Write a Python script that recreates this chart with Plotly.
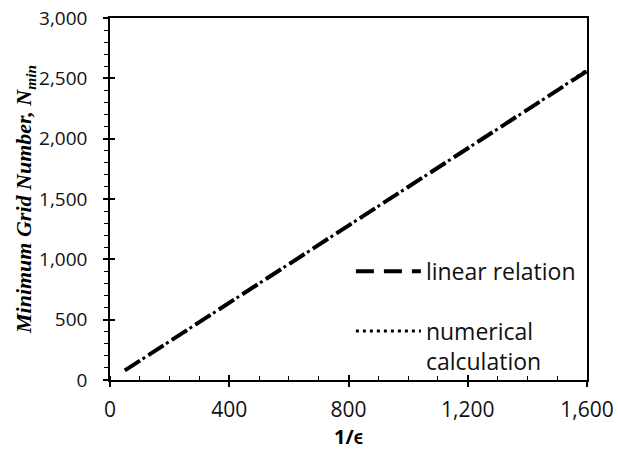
import plotly.graph_objects as go

# 1/epsilon values and minimum grid numbers
inv_eps = [50, 100, 200, 300, 400, 500, 600, 700, 800, 900, 1000, 1100, 1200, 1300, 1400, 1500, 1600]
n_linear = [80, 160, 320, 480, 640, 800, 960, 1120, 1280, 1440, 1600, 1760, 1920, 2080, 2240, 2400, 2560]
n_numeric = [80, 160, 320, 480, 640, 800, 960, 1120, 1280, 1440, 1600, 1760, 1920, 2080, 2240, 2400, 2570]

x_ticks = [0, 400, 800, 1200, 1600]
y_ticks = [0, 500, 1000, 1500, 2000, 2500, 3000]

font_main = "'Open Sans', Lato, sans-serif"

fig = go.Figure()
fig.add_trace(go.Scatter(x=inv_eps, y=n_linear, mode="lines", name="linear relation",
                         legendgroup="a",
                         line=dict(color="black", width=4, dash="18px,10px")))
fig.add_trace(go.Scatter(x=inv_eps, y=n_numeric, mode="lines", name="numerical<br>calculation",
                         legendgroup="b",
                         line=dict(color="black", width=3, dash="3px,4px")))

axis_common = dict(showgrid=False, zeroline=False, color="black", linecolor="black",
                   linewidth=1.5, ticklen=5, tickwidth=1.5, automargin=False)

fig.update_xaxes(range=[0, 1600], tickvals=x_ticks, tickformat=",d",
                 ticks="outside", showline=True, mirror=True, ticklabelstandoff=5,
                 tickfont=dict(family=font_main, size=21, color="#111"),
                 minor=dict(dtick=100, ticks="inside", ticklen=4, tickwidth=1.2, tickcolor="black"),
                 title=dict(text="<b>1/ϵ</b>", font=dict(family=font_main, size=20, color="black"), standoff=0),
                 **axis_common)
fig.update_yaxes(range=[0, 3000], tickvals=y_ticks, tickformat=",d",
                 ticks="outside", showline=True, mirror=True, ticklabelstandoff=12,
                 tickfont=dict(family=font_main, size=19, color="#111"),
                 minor=dict(dtick=100, ticks="outside", ticklen=4, tickwidth=1.2, tickcolor="black"),
                 title=dict(text="<b><i>Minimum Grid Number, N<sub>min</sub></i></b>",
                            font=dict(family="'Liberation Serif', 'DejaVu Serif', serif", size=22, color="black"),
                            standoff=1),
                 **axis_common)

# inside halves of the crossing major ticks
fig.update_layout(
    xaxis2=dict(overlaying="x", range=[0, 1600], tickvals=x_ticks, ticks="inside", ticklen=5,
                tickwidth=1.5, tickcolor="black", showticklabels=False, showgrid=False,
                zeroline=False, showline=False, side="bottom", automargin=False),
    yaxis2=dict(overlaying="y", range=[0, 3000], tickvals=y_ticks, ticks="inside", ticklen=5,
                tickwidth=1.5, tickcolor="black", showticklabels=False, showgrid=False,
                zeroline=False, showline=False, side="left", automargin=False),
)
fig.add_trace(go.Scatter(x=[None], y=[None], xaxis="x2", yaxis="y2", showlegend=False, hoverinfo="skip"))

fig.update_layout(
    width=618, height=455,
    margin=dict(l=110, r=31, t=18, b=75, autoexpand=False),
    plot_bgcolor="white", paper_bgcolor="white",
    legend=dict(x=0.505, y=0.36, xanchor="left", yanchor="top",
                bgcolor="rgba(0,0,0,0)", traceorder="grouped", tracegroupgap=27,
                valign="top", itemwidth=65,
                font=dict(family=font_main, size=23, color="#111")),
)

fig.write_html("out.html", config={"displayModeBar": False},
               post_script="document.body.style.margin='0';")
